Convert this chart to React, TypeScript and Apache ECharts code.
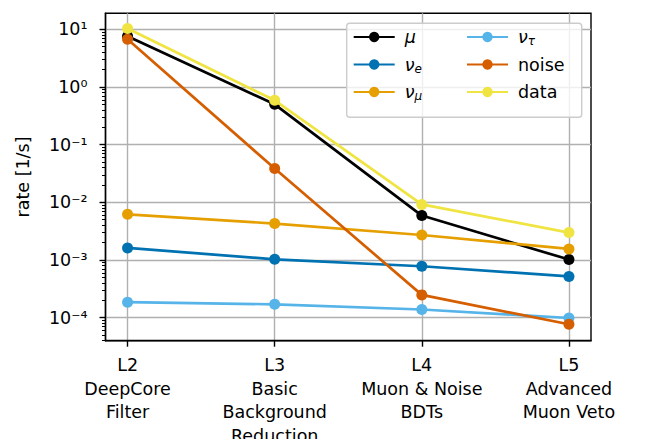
import React, { useEffect, useRef } from 'react';
import * as echarts from 'echarts';

// ---- data ----
const stages = [
  'L2\nDeepCore\nFilter',
  'L3\nBasic\nBackground\nReduction',
  'L4\nMuon & Noise\nBDTs',
  'L5\nAdvanced\nMuon Veto',
];
const stageIndex = [0, 1, 2, 3];

const muRate = [7.6, 0.5, 5.9e-3, 1.02e-3];
const nuERate = [1.62e-3, 1.03e-3, 7.8e-4, 5.2e-4];
const nuMuRate = [6.2e-3, 4.29e-3, 2.72e-3, 1.56e-3];
const nuTauRate = [1.86e-4, 1.71e-4, 1.39e-4, 9.9e-5];
const noiseRate = [6.7, 0.0385, 2.49e-4, 7.7e-5];
const dataRate = [10.3, 0.588, 9.2e-3, 2.99e-3];

const seriesNames = ['μ', 'νe', 'νμ', 'ντ', 'noise', 'data'];
const seriesValues = [muRate, nuERate, nuMuRate, nuTauRate, noiseRate, dataRate];
const seriesColors = ['#000000', '#0072B2', '#E69F00', '#56B4E9', '#D55E00', '#F0E442'];

const legendLabels: Record<string, string> = {
  'μ': '{g|μ}',
  'νe': '{g|ν}{s|e}',
  'νμ': '{g|ν}{s|μ}',
  'ντ': '{g|ν}{s|τ}',
  noise: 'noise',
  data: 'data',
};

const yMajorTicks = [1e-4, 1e-3, 1e-2, 1e-1, 1, 10];
const yMajorLabels = ['10⁻⁴', '10⁻³', '10⁻²', '10⁻¹', '10⁰', '10¹'];
const yMinorMultipliers = [2, 3, 4, 5, 6, 7, 8, 9];
const yMinorDecades = [1e-5, 1e-4, 1e-3, 1e-2, 1e-1, 1, 10];

const FONT = 'DejaVu Sans';
const FS = 17.5;

export default function App() {
  const ref = useRef<HTMLDivElement>(null);

  useEffect(() => {
    const chart = echarts.init(ref.current!, null, { renderer: 'svg' });
    const yMin = Math.pow(10, -4.398);
    const yMax = Math.pow(10, 1.277);
    const minorTicks: number[] = [];
    yMinorDecades.forEach((d) =>
      yMinorMultipliers.forEach((m) => {
        const v = d * m;
        if (v > yMin && v < yMax) minorTicks.push(v);
      })
    );

    const legendText = {
      fontFamily: FONT,
      fontSize: FS,
      color: '#000',
      lineHeight: 20,
      padding: [0, 0, 0, 5],
      rich: {
        g: { fontFamily: FONT, fontSize: FS, fontStyle: 'italic', lineHeight: 20, color: '#000' },
        s: {
          fontFamily: FONT,
          fontSize: 12,
          fontStyle: 'italic',
          lineHeight: 12,
          verticalAlign: 'bottom',
          color: '#000',
        },
      },
    };

    const gridRect = {
      left: 105.5,
      top: 13.3,
      width: 485.5,
      height: 327.4,
      containLabel: false,
      outerBoundsMode: 'none',
    };

    const legendBase = {
      orient: 'vertical',
      top: 27,
      itemWidth: 41,
      itemHeight: 13,
      itemGap: 7.5,
      padding: 0,
      selectedMode: false,
      z: 20,
      formatter: (n: string) => legendLabels[n],
      textStyle: legendText,
    };

    const option: any = {
      animation: false,
      backgroundColor: '#ffffff',
      grid: [
        { ...gridRect, show: true, borderColor: '#000', borderWidth: 1.4 },
        { ...gridRect },
      ],
      xAxis: [
        {
          type: 'value',
          gridIndex: 0,
          min: -0.15,
          max: 3.15,
          axisLine: { show: true, onZero: false, lineStyle: { color: '#000', width: 1.4 } },
          axisTick: {
            show: true,
            customValues: stageIndex,
            length: 6,
            lineStyle: { color: '#000', width: 1.4 },
          },
          axisLabel: {
            customValues: stageIndex,
            formatter: (v: number) => stages[Math.round(v)],
            fontFamily: FONT,
            fontSize: FS,
            lineHeight: 23.5,
            margin: 13,
            color: '#000',
            hideOverlap: false,
          },
          splitLine: { show: true, lineStyle: { color: '#b0b0b0', width: 1.4 } },
        },
        { type: 'value', gridIndex: 1, min: -0.15, max: 3.15, show: false },
      ],
      yAxis: [
        {
          type: 'log',
          gridIndex: 0,
          min: yMin,
          max: yMax,
          name: 'rate [1/s]',
          nameLocation: 'middle',
          nameGap: 74,
          nameMoveOverlap: false,
          nameTextStyle: { fontFamily: FONT, fontSize: FS, color: '#000' },
          axisLine: { show: true, onZero: false, lineStyle: { color: '#000', width: 1.4 } },
          axisTick: {
            show: true,
            customValues: yMajorTicks,
            length: 6,
            lineStyle: { color: '#000', width: 1.4 },
          },
          axisLabel: {
            customValues: yMajorTicks,
            margin: 18,
            fontFamily: FONT,
            fontSize: FS,
            color: '#000',
            formatter: (v: number) => {
              const e = Math.round(Math.log10(v));
              const k = yMajorTicks.findIndex((t) => Math.round(Math.log10(t)) === e);
              return k >= 0 ? yMajorLabels[k] : '';
            },
          },
          splitLine: { show: true, lineStyle: { color: '#b0b0b0', width: 1.4 } },
        },
        {
          type: 'log',
          gridIndex: 1,
          min: yMin,
          max: yMax,
          axisLine: { show: false, onZero: false },
          axisLabel: { show: false },
          splitLine: { show: false },
          axisTick: {
            show: true,
            customValues: minorTicks,
            length: 3.5,
            lineStyle: { color: '#000', width: 1.0 },
          },
        },
      ],
      legend: [
        { ...legendBase, data: seriesNames.slice(0, 3), left: 352.7 },
        { ...legendBase, data: seriesNames.slice(3, 6), left: 466 },
      ],
      graphic: [
        {
          type: 'rect',
          z: 19,
          shape: { x: 346.7, y: 23.3, width: 235, height: 94, r: 3 },
          style: { fill: 'rgba(255,255,255,0.8)', stroke: '#cccccc', lineWidth: 1.4 },
        },
      ],
      series: seriesNames.map((name, i) => ({
        name,
        type: 'line',
        xAxisIndex: 0,
        yAxisIndex: 0,
        z: 2 + i,
        data: seriesValues[i].map((v, k) => [stageIndex[k], v]),
        symbol: 'circle',
        symbolSize: 11,
        lineStyle: { width: 2.7, color: seriesColors[i] },
        itemStyle: { color: seriesColors[i] },
        emphasis: { disabled: true },
      })),
    };

    chart.setOption(option);
    let disposed = false;
    const rerender = () => {
      if (!disposed) chart.setOption(option, true);
    };
    const t = setTimeout(rerender, 250);
    if ((document as any).fonts && (document as any).fonts.ready) {
      (document as any).fonts.ready.then(rerender);
    }

    return () => {
      disposed = true;
      clearTimeout(t);
      chart.dispose();
    };
  }, []);

  return (
    <div
      ref={ref}
      style={{ position: 'absolute', left: 0, top: 0, width: 645, height: 439 }}
    />
  );
}
